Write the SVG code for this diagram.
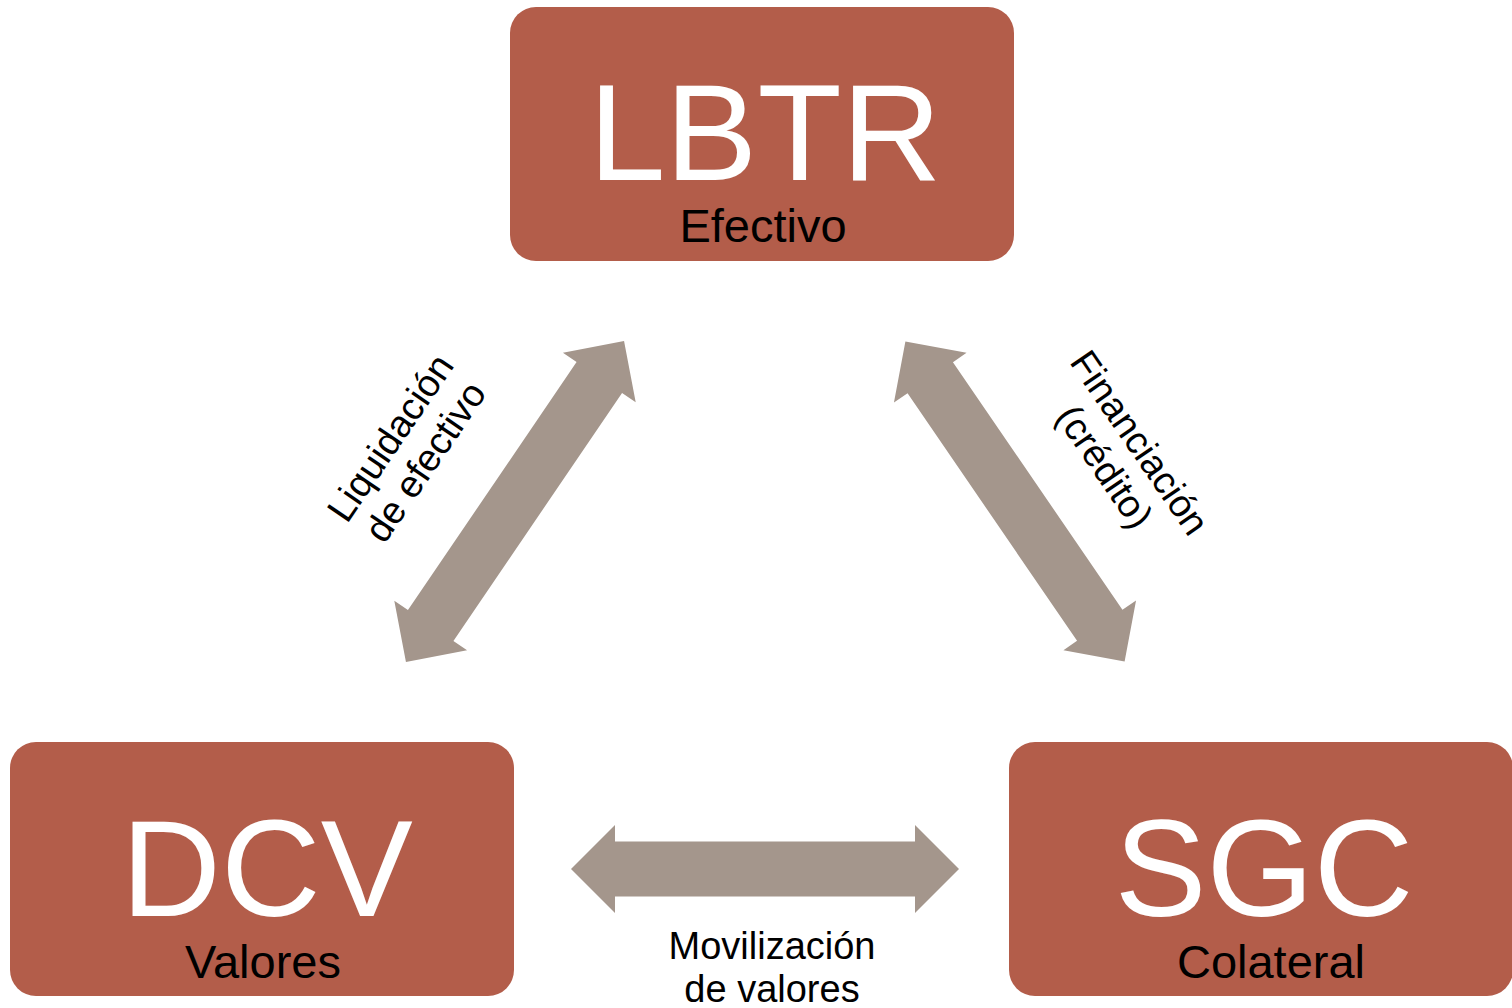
<svg xmlns="http://www.w3.org/2000/svg" width="1512" height="1008" viewBox="0 0 1512 1008">
<defs>
<style>
.box{fill:#B35D4A;}
.big{font-family:"Liberation Sans",Arial,sans-serif;font-size:138px;fill:#ffffff;text-anchor:middle;}
.sub{font-family:"Liberation Sans",Arial,sans-serif;font-size:47px;fill:#000000;text-anchor:middle;}
.lbl{font-family:"Liberation Sans",Arial,sans-serif;font-size:38px;fill:#000000;text-anchor:middle;}
.arr{fill:#A4968C;}
</style>
<path id="dbl" d="M -194 0 L -150 -44 L -150 -27.5 L 150 -27.5 L 150 -44 L 194 0 L 150 44 L 150 27.5 L -150 27.5 L -150 44 Z"/>
</defs>
<rect width="1512" height="1008" fill="#ffffff"/>
<g id="connectors">
<use href="#dbl" class="arr" transform="translate(515,501.5) rotate(-55.8)"/>
<use href="#dbl" class="arr" transform="translate(1015,501.5) rotate(55.6)"/>
<use href="#dbl" class="arr" transform="translate(765,869)"/>
<text class="lbl" transform="translate(401,445) rotate(-55.8)">Liquidación</text>
<text class="lbl" transform="translate(436,469) rotate(-55.8)">de efectivo</text>
<text class="lbl" transform="translate(1129,450) rotate(55.6)">Financiación</text>
<text class="lbl" transform="translate(1094,474) rotate(55.6)">(crédito)</text>
<text class="lbl" x="772" y="959">Movilización</text>
<text class="lbl" x="772" y="1002">de valores</text>
</g>
<g id="lbtr">
<rect class="box" x="510" y="7" width="504" height="254" rx="26"/>
<text class="big" x="765" y="180">LBTR</text>
<text class="sub" x="763" y="242">Efectivo</text>
</g>
<g id="dcv">
<rect class="box" x="10" y="742" width="504" height="254" rx="26"/>
<text class="big" x="267" y="916">DCV</text>
<text class="sub" x="263" y="978">Valores</text>
</g>
<g id="sgc">
<rect class="box" x="1009" y="742" width="504" height="254" rx="26"/>
<text class="big" x="1264" y="916">SGC</text>
<text class="sub" x="1271" y="978">Colateral</text>
</g>
</svg>
